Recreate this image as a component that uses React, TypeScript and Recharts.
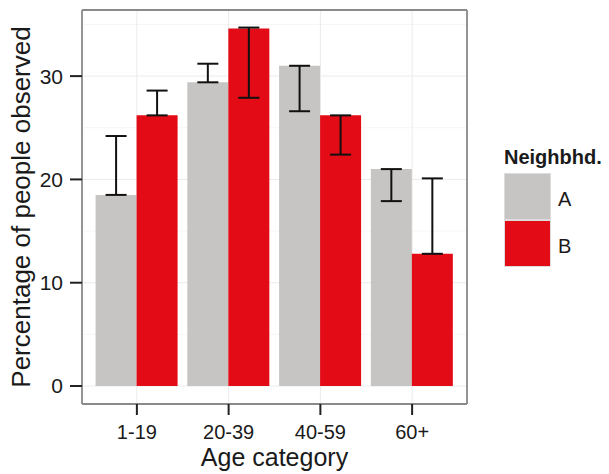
import React from 'react';
import {
  BarChart,
  Bar,
  XAxis,
  YAxis,
  CartesianGrid,
  ErrorBar,
  Legend,
} from 'recharts';

const CATEGORIES = ['1-19', '20-39', '40-59', '60+'];

// Neighbourhood A: bar value and error bar range
const NEIGHBHD_A = [18.5, 29.4, 31.0, 21.0];
const NEIGHBHD_A_LOW = [18.5, 29.4, 26.6, 17.9];
const NEIGHBHD_A_HIGH = [24.2, 31.2, 31.0, 21.0];

// Neighbourhood B
const NEIGHBHD_B = [26.2, 34.6, 26.2, 12.8];
const NEIGHBHD_B_LOW = [26.2, 27.9, 22.4, 12.8];
const NEIGHBHD_B_HIGH = [28.6, 34.7, 26.2, 20.1];

const Y_TICKS = [0, 10, 20, 30];
const Y_MINOR = [5, 15, 25, 35];

const COLORS = { A: '#c6c5c4', B: '#e20b16' };
const FONT = '"Liberation Sans", Arial, Helvetica, sans-serif';
const TEXT = '#1a1a1a';

interface Row {
  cat: string;
  A: number;
  B: number;
  errA: [number, number];
  errB: [number, number];
}

const data: Row[] = CATEGORIES.map((cat, i) => ({
  cat,
  A: NEIGHBHD_A[i],
  B: NEIGHBHD_B[i],
  errA: [NEIGHBHD_A[i] - NEIGHBHD_A_LOW[i], NEIGHBHD_A_HIGH[i] - NEIGHBHD_A[i]],
  errB: [NEIGHBHD_B[i] - NEIGHBHD_B_LOW[i], NEIGHBHD_B_HIGH[i] - NEIGHBHD_B[i]],
}));

const renderLegend = (props: any) => {
  const { payload = [] } = props;
  return (
    <div style={{ fontFamily: FONT, color: TEXT }}>
      <div style={{ fontSize: 20, fontWeight: 'bold', lineHeight: '22px', height: 27 }}>
        Neighbhd.
      </div>
      {payload.map((entry: any) => (
        <div key={entry.value} style={{ display: 'flex', height: 47 }}>
          <div
            style={{
              width: 47,
              height: 47,
              boxSizing: 'border-box',
              border: '1px solid #dcdcdc',
              background: entry.color,
            }}
          />
          <span style={{ marginLeft: 7, fontSize: 20, lineHeight: '47px', paddingTop: 3 }}>
            {entry.value}
          </span>
        </div>
      ))}
    </div>
  );
};

const App: React.FC = () => {
  return (
    <div style={{ position: 'absolute', left: 0, top: 0 }}>
      <BarChart
        width={609}
        height={474}
        data={data}
        margin={{ top: 10, right: 142, bottom: 0, left: 0 }}
        barCategoryGap="5%"
        barGap={0}
        style={{ fontFamily: FONT }}
      >
        {/* minor grid */}
        <CartesianGrid horizontalValues={Y_MINOR} vertical={false} stroke="#f6f6f6" strokeWidth={1} />
        {/* major grid */}
        <CartesianGrid horizontalValues={Y_TICKS} stroke="#ebebeb" strokeWidth={1} />
        {/* panel border */}
        <CartesianGrid
          stroke="#8a8a8a"
          strokeWidth={1.8}
          horizontalCoordinatesGenerator={({ offset }: any) => [offset.top, offset.top + offset.height]}
          verticalCoordinatesGenerator={({ offset }: any) => [offset.left, offset.left + offset.width]}
        />
        <XAxis
          dataKey="cat"
          height={70}
          padding={{ left: 9, right: 9 }}
          axisLine={false}
          tickSize={11}
          tickMargin={10}
          tickLine={{ stroke: '#222', strokeWidth: 2 }}
          tick={{ fill: TEXT, fontSize: 20 }}
          label={{
            content: ({ viewBox }: any) => (
              <text
                x={viewBox.x + viewBox.width / 2}
                y={466}
                textAnchor="middle"
                fontSize={25}
                fill={TEXT}
                fontFamily={FONT}
              >
                Age category
              </text>
            ),
          }}
        />
        <YAxis
          width={82}
          domain={[-1.74, 36.4]}
          allowDataOverflow
          ticks={Y_TICKS}
          axisLine={false}
          tickSize={12}
          tickMargin={7}
          tickLine={{ stroke: '#222', strokeWidth: 2 }}
          tick={{ fill: TEXT, fontSize: 21 }}
          label={{
            content: ({ viewBox }: any) => {
              const cy = viewBox.y + viewBox.height / 2;
              return (
                <text
                  x={30}
                  y={cy}
                  transform={`rotate(-90, 30, ${cy})`}
                  textAnchor="middle"
                  fontSize={26}
                  fill={TEXT}
                  fontFamily={FONT}
                >
                  Percentage of people observed
                </text>
              );
            },
          }}
        />
        <Legend
          layout="vertical"
          align="center"
          verticalAlign="middle"
          content={renderLegend}
          wrapperStyle={{ left: 504, top: 146, width: 100 }}
        />
        <Bar dataKey="A" name="A" fill={COLORS.A} isAnimationActive={false}>
          <ErrorBar dataKey="errA" width={10.5} strokeWidth={2} stroke="#111" direction="y" isAnimationActive={false} />
        </Bar>
        <Bar dataKey="B" name="B" fill={COLORS.B} isAnimationActive={false}>
          <ErrorBar dataKey="errB" width={10.5} strokeWidth={2} stroke="#111" direction="y" isAnimationActive={false} />
        </Bar>
      </BarChart>
    </div>
  );
};

export default App;
